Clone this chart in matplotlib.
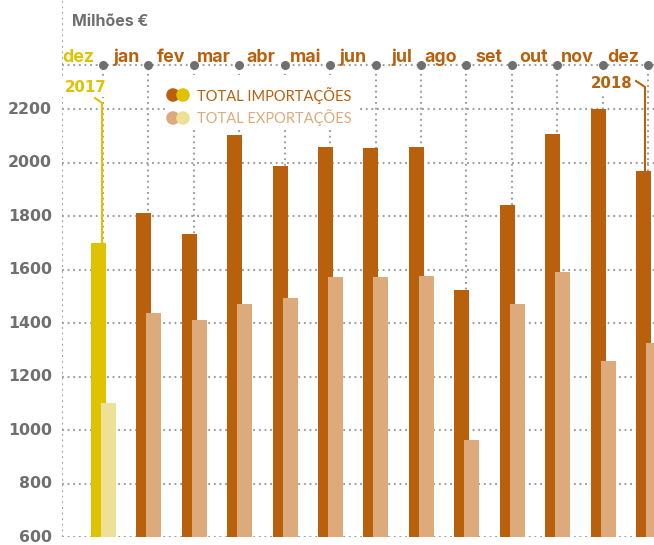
import matplotlib
matplotlib.use("Agg")
import matplotlib.pyplot as plt
from matplotlib.patches import Rectangle

# dados (milhões de euros)
meses = ["dez", "jan", "fev", "mar", "abr", "mai", "jun", "jul", "ago", "set", "out", "nov", "dez"]
importacoes = [1700, 1812, 1734, 2103, 1987, 2058, 2056, 2059, 1523, 1841, 2109, 2203, 1968]
exportacoes = [1100, 1439, 1413, 1473, 1495, 1574, 1574, 1575, 963, 1473, 1590, 1260, 1325]
yticks = [600, 800, 1000, 1200, 1400, 1600, 1800, 2000, 2200]

LARANJA = "#b9600d"
BEGE = "#ddab7b"
AMARELO = "#dfc300"
AMARELO_CLARO = "#efe097"
CINZA = "#6f6f6f"
GRELHA = "#a0a0a0"
FONTE = ["Lato", "DejaVu Sans"]
FONTE_B = ["Inter", "DejaVu Sans"]
FONTE_N = ["DejaVu Sans"]

W, H = 654, 545
fig = plt.figure(figsize=(W / 100, H / 100), dpi=100)

def fx(px):
    return px / W

def fy(py):
    return 1 - py / H

# eixo: 600 em y=537px, 0.2673 px por unidade; grupos a 45.42 px
ppu = 0.2673
ytop = 600 + 537 / ppu
x0, dx = 103, 45.42
ax = fig.add_axes([fx(62), fy(537), fx(654 - 62), 537 / H])
ax.set_xlim((62 - x0) / dx, (654 - x0) / dx)
ax.set_ylim(600, ytop)
ax.axis("off")

def vy(py):
    return 600 + (537 - py) / ppu

def vx(px):
    return (px - x0) / dx

dots = dict(color=GRELHA, linestyle=(0, (0.9, 1.8)), linewidth=1.5)

# grelha
for t in yticks:
    ax.axhline(t, zorder=1, **dots)
ax.axvline(vx(62), zorder=1, **dots)
n = len(meses)
for i in range(n):
    ax.plot([i, i], [600, vy(65)], zorder=1, **dots)
ax.axhline(vy(65), zorder=2, **dots)
ax.scatter(range(n), [vy(65)] * n, s=42, color=CINZA, zorder=3, linewidths=0)

# barras
w = 0.33
cores_imp = [AMARELO] + [LARANJA] * (n - 1)
cores_exp = [AMARELO_CLARO] + [BEGE] * (n - 1)
xs = list(range(n))
ax.bar([x - 0.1 for x in xs], [v - 600 for v in importacoes], bottom=600, width=w,
       color=cores_imp, zorder=4)
ax.bar([x + 0.12 for x in xs], [v - 600 for v in exportacoes], bottom=600, width=w,
       color=cores_exp, zorder=5)

# caixa branca da legenda
ax.add_patch(Rectangle((vx(165), vy(130)), vx(358) - vx(165), vy(75) - vy(130),
                       facecolor="white", edgecolor="none", zorder=2.5))
ax.scatter([vx(173), vx(183)], [vy(95)] * 2, s=95, color=[LARANJA, AMARELO],
           linewidths=0, zorder=6)
ax.scatter([vx(173), vx(183)], [vy(118)] * 2, s=95, color=[BEGE, AMARELO_CLARO],
           linewidths=0, zorder=6)
ax.text(vx(197), vy(96), "TOTAL IMPORTAÇÕES", color=LARANJA, fontsize=10.5,
        family=FONTE, va="center", ha="left", zorder=6)
ax.text(vx(197), vy(118), "TOTAL EXPORTAÇÕES", color=BEGE, fontsize=10.5,
        family=FONTE, va="center", ha="left", zorder=6)

# anotações 2017 / 2018
ax.text(vx(86), vy(87), "2017", color=AMARELO, fontsize=10.8, fontweight="bold",
        family=FONTE_N, ha="center", va="center", zorder=6,
        bbox=dict(facecolor="white", edgecolor="none", pad=2))
ax.plot([vx(95), vx(102), vx(102)], [vy(98), vy(103), importacoes[0]],
        color=AMARELO, linewidth=1.5, zorder=6)
ax.text(vx(612), vy(83), "2018", color=LARANJA, fontsize=10.8, fontweight="bold",
        family=FONTE_N, ha="center", va="center", zorder=6,
        bbox=dict(facecolor="white", edgecolor="none", pad=2))
ax.plot([vx(636), vx(645), vx(645)], [vy(81), vy(87), importacoes[-1]],
        color=LARANJA, linewidth=1.5, zorder=6)

# textos
fig.text(fx(72), fy(22), "Milhões €", color=CINZA, fontsize=11.5, fontweight="bold",
         family=FONTE_B, va="center", ha="left")
for t in yticks:
    fig.text(fx(52), fy(537 - (t - 600) * ppu), str(t), color=CINZA, fontsize=11.3,
             fontweight="bold", family=FONTE_N, ha="right", va="center")
for i, m in enumerate(meses):
    cor = AMARELO if i == 0 else LARANJA
    fig.text(fx(x0 + dx * i - 9), fy(62), m, color=cor, fontsize=12.8,
             fontweight="bold", family=FONTE_B, ha="right", va="baseline")

fig.savefig("out.png", dpi=100)
